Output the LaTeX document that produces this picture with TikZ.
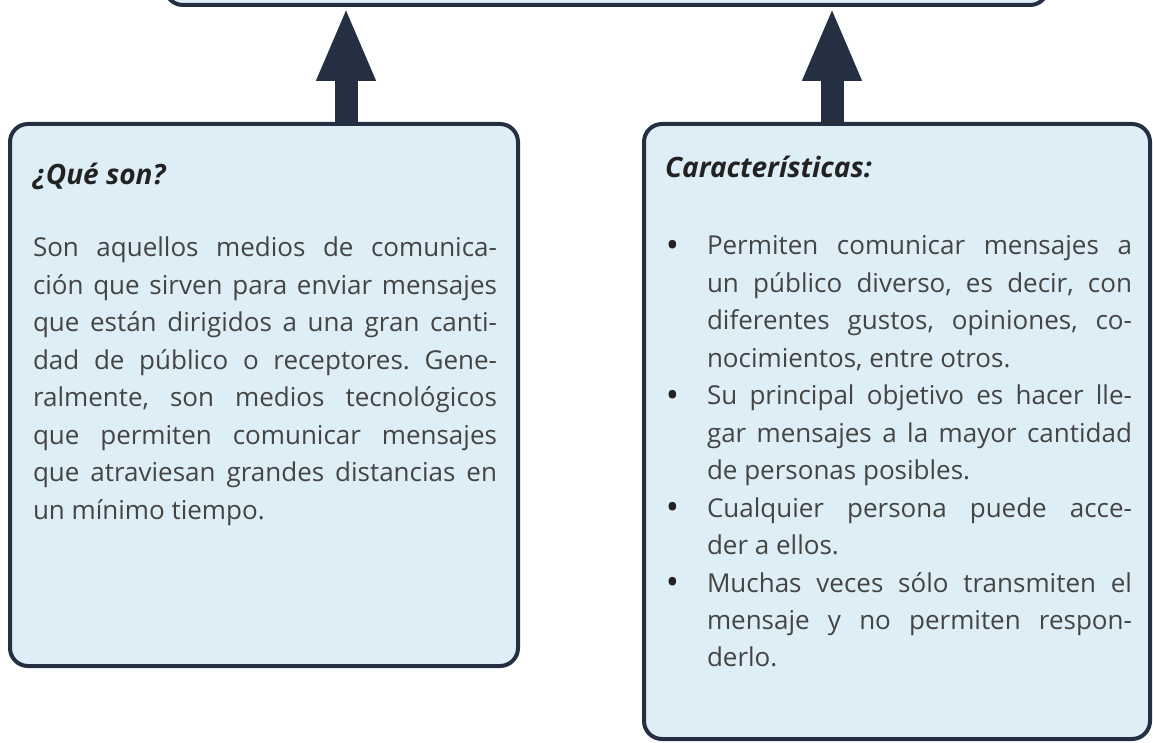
\documentclass[tikz,border=0pt]{standalone}
\usepackage{fontspec}
\setmainfont{Open Sans}
\usetikzlibrary{arrows.meta,positioning}
\pretolerance=10000
\tolerance=10000
\hbadness=10000
\frenchspacing

\tikzset{
  cuadro/.style={draw=lineColor,fill=boxColor,line width=4pt,rounded corners=18pt,inner sep=0pt},
  flecha/.style={draw=lineColor,line width=23pt,-{Triangle[width=54pt,length=74pt]}},
  titulo/.style={anchor=base west,inner sep=0pt,outer sep=0pt,text=titleColor,
    font=\fontsize{28}{37.45}\selectfont\bfseries\itshape},
  cuerpo/.style={anchor=base west,inner sep=0pt,outer sep=0pt,text=textColor,align=justify,
    font=\fontsize{26}{37.45}\selectfont}
}
\newcommand{\vineta}{\noindent\llap{\raisebox{-2.5pt}{\textcolor{titleColor}{\scalebox{1.35}{\textbullet}}}\hspace{28pt}}}

\begin{document}
\begin{tikzpicture}[x=1pt,y=1pt]
\definecolor{fillColor}{RGB}{255,255,255}
\definecolor{lineColor}{RGB}{36,48,66}
\definecolor{boxColor}{RGB}{222,238,247}
\definecolor{titleColor}{RGB}{34,34,34}
\definecolor{textColor}{RGB}{68,68,68}
\path[use as bounding box,fill=fillColor] (0,0) rectangle (1153,742);
\begin{scope}
\path[clip] (  0.00,  0.00) rectangle (1153.00,742.00);

% cajas
\node[cuadro,minimum width=883pt,minimum height=100pt] (marco) at (606.50,787.00) {};

\node[cuadro,minimum width=508pt,minimum height=542pt] (que) at (264.00,347.00) {};

\node[cuadro,minimum width=506pt,minimum height=615pt] (car) at (897.00,310.50) {};

% flechas
\coordinate (f1) at (346.00,0);
\coordinate (f2) at (832.00,0);

\draw[flecha] (f1 |- que.north) -- (f1 |- marco.south);

\draw[flecha] (f2 |- car.north) -- (f2 |- marco.south);

% textos
\node[titulo] (tque) at ( 33.00,557.00) {¿Qué son?};

\node[cuerpo,text width=464pt] (bque) at ( 33.00,485.00) {%
Son aquellos medios de comunica-\linebreak ción que sirven para enviar mensajes\linebreak
que están dirigidos a una gran canti-\linebreak dad de público o receptores. Gene-\linebreak
ralmente, son medios tecnológicos\linebreak que permiten comunicar mensajes\linebreak
que atraviesan grandes distancias en\linebreak un mínimo tiempo.};

\node[titulo] (tcar) at (665.00,564.00) {Características:};

\node[cuerpo,text width=425pt] (bcar) at (707.00,487.00) {%
\vineta Permiten comunicar mensajes a\linebreak un público diverso, es decir, con\linebreak
diferentes gustos, opiniones, co-\linebreak nocimientos, entre otros.\par
\vineta Su principal objetivo es hacer lle-\linebreak gar mensajes a la mayor cantidad\linebreak
de personas posibles.\par
\vineta Cualquier persona puede acce-\linebreak der a ellos.\par
\vineta Muchas veces sólo transmiten el\linebreak mensaje y no permiten respon-\linebreak
derlo.};
\end{scope}
\end{tikzpicture}
\end{document}
